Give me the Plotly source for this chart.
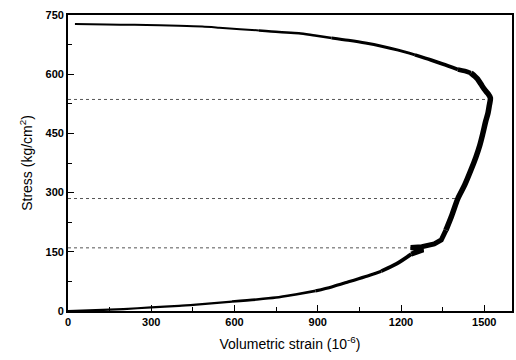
import plotly.graph_objects as go

# Volumetric strain (1e-6) vs axial stress (kg/cm^2), ordered by increasing load
strain = [0, 100, 200, 300, 400, 473, 591, 680, 749, 820, 892, 950, 1011, 1070,
          1129, 1185, 1237,
          1280, 1235, 1275, 1320, 1345,
          1362, 1382, 1405, 1430, 1452, 1470, 1484, 1495, 1505, 1513, 1518, 1522,
          1512, 1500, 1488, 1476, 1466, 1452, 1430, 1405,
          1350, 1308, 1250, 1190, 1130, 1072, 1010, 950, 890, 832,
          760, 688, 620, 545, 484, 400, 330, 240, 140, 25]
stress = [0, 2, 5, 9, 13, 17, 24, 29, 34, 42, 51, 61, 74, 87,
          101, 120, 144,
          155, 161, 163, 170, 180,
          205, 240, 285, 320, 357, 390, 420, 450, 480, 500, 520, 540,
          552, 562, 575, 588, 595, 603, 608, 612,
          626, 636, 649, 661, 671, 679, 686, 692, 698, 704,
          707, 711, 714, 718, 721, 723, 724, 725, 726, 727]

# Trace line width along the record: (start index, end index, width, smooth)
segments = [(0, 6, 2.2, True), (6, 10, 2.6, True), (10, 14, 3.2, True),
            (14, 16, 3.8, True), (16, 22, 5.0, False), (22, 39, 5.5, True),
            (39, 41, 4.5, True), (41, 44, 3.6, True), (44, 49, 3.0, True),
            (49, 53, 2.5, True), (53, 61, 2.0, True)]

# Reference stress levels marked with dotted guides, and where each guide stops
guide_stress = [536, 285, 160]
guide_end = [1520, 1400, 1235]

x_ticks = [0, 300, 600, 900, 1200, 1500]
y_ticks = [0, 150, 300, 450, 600, 750]

fig = go.Figure()

for level, end in zip(guide_stress, guide_end):
    fig.add_trace(go.Scatter(
        x=[0, end], y=[level, level], mode="lines",
        line=dict(color="#555555", width=1, dash="dot"),
        hoverinfo="skip", showlegend=False))

for i0, i1, w, smooth in segments:
    fig.add_trace(go.Scatter(
        x=strain[i0:i1 + 1], y=stress[i0:i1 + 1], mode="lines",
        line=dict(color="black", width=w,
                  shape="spline" if smooth else "linear", smoothing=0.8),
        showlegend=False))

tick_font = dict(family="Liberation Sans, Arial, sans-serif", size=11,
                 color="black", weight="bold")
title_font = dict(family="Liberation Sans, Arial, sans-serif", size=14,
                  color="black")

fig.update_layout(
    width=516, height=360,
    margin=dict(l=68, r=2, t=15, b=49),
    paper_bgcolor="white", plot_bgcolor="white",
    xaxis=dict(
        range=[0, 1600], tickvals=x_ticks, ticktext=[str(v) for v in x_ticks],
        ticks="inside", ticklen=6, tickwidth=1.2, tickcolor="black",
        minor=dict(dtick=150, tick0=0, ticks="inside", ticklen=4,
                   tickwidth=1, tickcolor="black"),
        showline=True, linecolor="black", linewidth=1.8, mirror=True,
        showgrid=False, zeroline=False, tickfont=tick_font,
        title=dict(text="Volumetric strain (10<sup>-6</sup>)",
                   font=title_font, standoff=12)),
    yaxis=dict(
        range=[0, 750], tickvals=y_ticks, ticktext=[str(v) for v in y_ticks],
        ticks="inside", ticklen=6, tickwidth=1.2, tickcolor="black",
        minor=dict(dtick=75, tick0=0, ticks="inside", ticklen=4,
                   tickwidth=1, tickcolor="black"),
        showline=True, linecolor="black", linewidth=1.8, mirror=True,
        showgrid=False, zeroline=False, tickfont=tick_font,
        title=dict(text="Stress (kg/cm<sup>2</sup>)", font=title_font,
                   standoff=10)),
)

fig.write_html("out.html")
